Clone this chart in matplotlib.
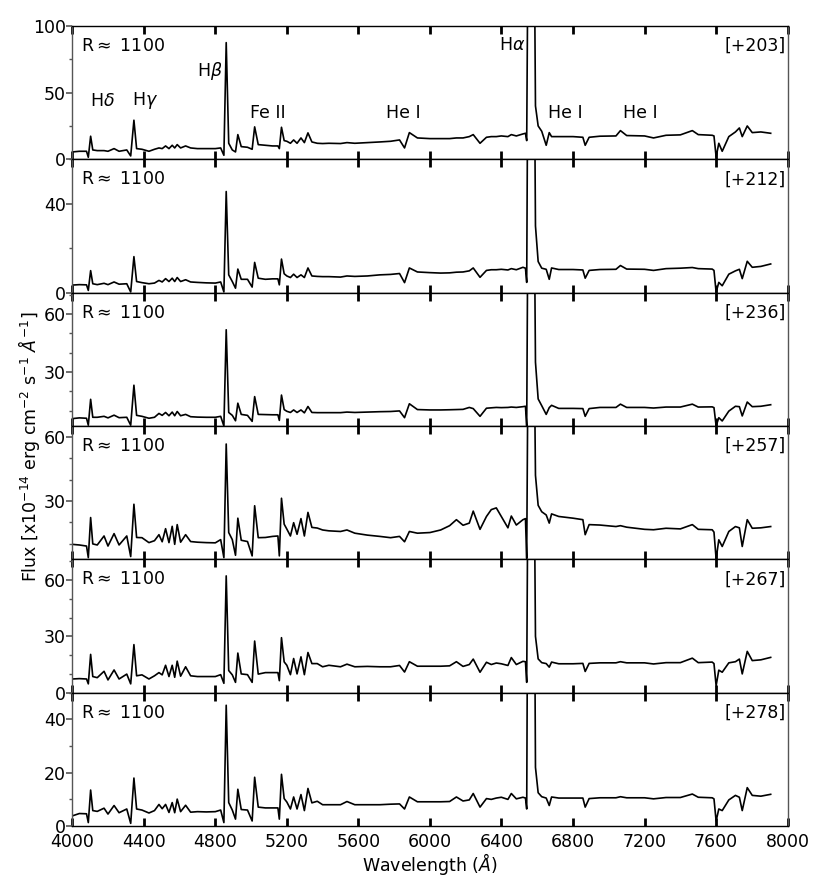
import matplotlib
matplotlib.use("Agg")
import matplotlib.pyplot as plt
from matplotlib.ticker import MultipleLocator

# wavelength grid (Angstrom) shared by all epochs
wave = [
    4000, 4040, 4080, 4090, 4103, 4115, 4140, 4178, 4200, 4234,
    4262, 4305, 4327, 4345, 4360, 4390, 4429, 4460, 4485, 4503,
    4522, 4541, 4559, 4573, 4587, 4606, 4634, 4662, 4700, 4750,
    4800, 4830, 4848, 4861, 4875, 4895, 4913, 4926, 4945, 4980,
    5006, 5020, 5040, 5080, 5120, 5150, 5158, 5170, 5185, 5200,
    5220, 5238, 5257, 5279, 5298, 5318, 5340, 5370, 5400, 5435,
    5500, 5536, 5580, 5650, 5720, 5780, 5830, 5858, 5885, 5930,
    6000, 6060, 6110, 6148, 6185, 6220, 6242, 6280, 6316, 6343,
    6371, 6399, 6436, 6455, 6483, 6520, 6534, 6541, 6550, 6563,
    6576, 6590, 6605, 6625, 6650, 6667, 6680, 6720, 6800, 6855,
    6868, 6890, 6950, 7040, 7065, 7100, 7200, 7250, 7320, 7400,
    7467, 7500, 7578, 7588, 7600, 7615, 7634, 7671, 7708, 7730,
    7746, 7774, 7802, 7850, 7905,
]

flux_203 = [
    5.5, 6.0, 6.0, 1.5, 17.3, 7.0, 6.5, 6.5, 6.0, 8.0,
    6.0, 7.0, 2.5, 29.3, 8.0, 7.5, 6.0, 7.5, 8.5, 8.0,
    10.0, 8.0, 10.5, 8.5, 11.0, 8.5, 10.0, 8.5, 8.0, 8.0,
    8.0, 8.5, 3.0, 87.5, 12.0, 7.0, 5.5, 18.5, 9.5, 9.0,
    7.5, 24.3, 11.0, 10.5, 10.0, 10.0, 8.0, 24.0, 14.0, 13.5,
    12.0, 14.5, 12.0, 16.0, 12.5, 19.8, 13.0, 12.0, 11.8, 12.0,
    11.8, 12.5, 12.0, 12.5, 13.0, 13.5, 14.5, 8.5, 20.0, 16.0,
    15.5, 15.5, 15.5, 16.0, 16.0, 17.0, 18.5, 12.0, 16.5, 17.0,
    17.0, 17.5, 17.0, 18.5, 17.5, 19.0, 19.5, 14.0, 200, 800,
    300, 40, 25, 21.0, 10.5, 20.0, 17.0, 17.0, 17.0, 16.5,
    10.5, 16.5, 17.3, 17.5, 21.5, 17.8, 17.5, 16.0, 18.0, 18.3,
    21.5, 18.5, 18.0, 17.5, 1.8, 12.0, 6.0, 17.0, 20.5, 23.5,
    17.0, 25.0, 20.0, 20.5, 19.5,
]

flux_212 = [
    3.4, 3.6, 3.5, 1.0, 9.9, 4.0, 3.6, 4.2, 3.6, 4.8,
    3.8, 4.0, 0.3, 16.2, 5.0, 4.5, 4.0, 4.3, 5.5, 4.8,
    6.3, 5.0, 6.5, 5.0, 6.8, 5.0, 5.8, 4.8, 4.6, 4.4,
    4.3, 4.8, 0.3, 45.5, 8.0, 5.0, 2.0, 10.6, 6.0, 6.0,
    2.5, 13.6, 6.5, 6.0, 6.2, 6.2, 3.5, 15.1, 8.5, 7.5,
    6.8, 8.3, 6.8, 8.0, 6.8, 11.1, 7.5, 7.3, 7.2, 7.2,
    7.0, 7.5, 7.3, 7.5, 8.0, 8.2, 8.6, 4.5, 11.1, 9.3,
    9.0, 8.8, 8.9, 9.2, 9.3, 9.8, 11.1, 6.9, 10.0, 10.3,
    10.3, 10.5, 10.2, 10.8, 10.3, 11.4, 11.0, 4.6, 150, 600,
    200, 30, 14.0, 11.0, 10.5, 6.0, 11.1, 10.4, 10.4, 10.2,
    6.5, 10.0, 10.4, 10.5, 12.2, 10.6, 10.5, 10.0, 10.8, 11.0,
    11.3, 10.8, 10.6, 10.0, 0.2, 4.6, 3.1, 8.3, 9.8, 10.5,
    6.3, 14.1, 11.4, 11.8, 12.9,
]

flux_236 = [
    5.8, 6.2, 6.0, 2.4, 15.8, 6.5, 6.5, 7.0, 6.2, 7.6,
    6.3, 6.5, 2.4, 23.1, 7.5, 7.0, 6.0, 6.5, 8.5, 7.5,
    9.0, 7.3, 9.2, 7.3, 9.5, 7.3, 8.0, 6.8, 6.6, 6.5,
    6.5, 7.0, 2.0, 51.8, 9.0, 7.5, 4.7, 13.8, 8.0, 7.5,
    4.4, 17.2, 8.0, 7.9, 7.8, 7.8, 4.9, 18.0, 10.5, 9.6,
    9.0, 10.3, 9.0, 10.3, 8.8, 12.1, 9.0, 8.9, 8.9, 8.9,
    8.9, 9.2, 9.0, 9.2, 9.4, 9.5, 9.8, 6.3, 13.5, 10.5,
    10.3, 10.3, 10.4, 10.5, 10.6, 11.6, 11.0, 7.0, 11.2, 11.4,
    11.6, 11.5, 11.6, 11.8, 11.6, 12.0, 12.2, 2.0, 150, 600,
    200, 35, 16.0, 12.5, 8.0, 11.5, 12.7, 11.1, 11.1, 11.0,
    7.0, 11.0, 11.6, 11.6, 13.3, 11.6, 11.6, 11.3, 11.8, 11.8,
    13.3, 11.8, 11.9, 11.5, 2.0, 6.3, 4.6, 9.7, 12.2, 12.0,
    7.2, 14.4, 12.0, 12.2, 13.0,
]

flux_257 = [
    9.8, 9.5, 9.0, 3.6, 22.3, 10.0, 9.5, 13.7, 9.0, 14.8,
    9.5, 13.7, 4.1, 28.5, 13.0, 12.9, 10.6, 11.5, 14.3, 11.0,
    17.1, 10.6, 18.2, 9.8, 19.0, 10.8, 14.3, 11.1, 10.8, 10.6,
    10.5, 12.0, 3.6, 56.6, 15.3, 12.0, 4.7, 22.0, 11.7, 11.1,
    4.4, 27.8, 12.9, 13.0, 13.5, 13.7, 4.4, 31.3, 19.2, 16.9,
    13.7, 19.9, 14.5, 21.8, 13.7, 24.7, 17.7, 17.4, 16.5, 16.1,
    15.8, 16.5, 15.0, 14.1, 13.5, 12.9, 13.5, 11.0, 15.8, 15.0,
    15.3, 16.5, 18.5, 21.3, 18.7, 19.7, 25.3, 16.8, 22.8, 26.0,
    26.8, 22.8, 17.5, 23.0, 18.8, 21.3, 21.8, 3.2, 120, 500,
    160, 42, 28, 25, 23.5, 19.7, 24.0, 22.8, 22.0, 21.3,
    14.3, 19.0, 18.8, 18.1, 18.5, 17.8, 16.8, 16.6, 17.3, 17.0,
    19.0, 16.8, 16.6, 15.5, 3.0, 11.9, 8.8, 15.8, 18.1, 17.5,
    8.8, 21.3, 17.3, 17.5, 18.1,
]

flux_267 = [
    7.3, 7.5, 7.3, 4.7, 20.4, 8.6, 8.0, 11.4, 6.8, 12.1,
    7.3, 9.9, 4.7, 25.6, 9.0, 9.5, 7.3, 9.0, 10.7, 9.5,
    14.6, 8.6, 14.6, 8.2, 16.8, 8.8, 13.8, 9.0, 8.6, 8.6,
    8.6, 9.6, 5.0, 62.2, 11.8, 9.5, 5.5, 21.1, 10.0, 9.6,
    5.5, 27.5, 9.9, 10.7, 10.7, 10.7, 6.4, 29.3, 16.4, 14.6,
    9.6, 18.2, 10.0, 19.1, 9.6, 21.4, 15.5, 15.5, 13.8, 14.6,
    13.8, 15.2, 13.8, 14.0, 13.8, 13.8, 14.5, 11.0, 16.5, 14.1,
    14.1, 14.1, 14.3, 16.5, 14.0, 15.0, 17.9, 10.9, 16.2, 15.0,
    15.8, 15.4, 14.5, 18.7, 15.0, 16.7, 16.5, 5.5, 150, 600,
    200, 30, 18.0, 16.0, 15.5, 13.6, 16.3, 15.4, 15.4, 15.6,
    11.3, 15.6, 15.9, 15.9, 16.5, 15.9, 15.9, 15.3, 16.0, 16.0,
    18.4, 16.0, 16.3, 15.5, 3.7, 12.0, 10.9, 15.9, 16.5, 17.9,
    10.0, 22.0, 17.1, 17.5, 18.8,
]

flux_278 = [
    3.8, 4.7, 4.6, 1.3, 13.5, 5.8, 5.5, 6.7, 4.5, 7.7,
    5.0, 6.4, 1.0, 18.0, 6.4, 6.0, 4.9, 5.8, 8.1, 6.5,
    8.1, 5.1, 8.8, 5.0, 10.1, 5.4, 7.8, 5.2, 5.4, 5.3,
    5.4, 6.0, 1.3, 45.3, 8.8, 6.0, 2.6, 13.8, 6.2, 6.0,
    1.9, 18.3, 7.1, 6.8, 6.8, 6.8, 2.6, 19.4, 10.3, 9.0,
    6.4, 10.9, 6.4, 11.8, 5.8, 14.1, 8.7, 9.3, 8.0, 8.0,
    8.0, 9.2, 8.0, 8.0, 8.0, 8.2, 8.3, 6.4, 10.9, 9.1,
    9.1, 9.1, 9.2, 10.9, 9.4, 9.8, 12.2, 7.1, 10.3, 10.0,
    10.5, 10.8, 10.0, 12.2, 10.2, 10.8, 10.5, 6.4, 150, 600,
    200, 22, 12.5, 11.0, 10.5, 7.7, 10.9, 10.5, 10.5, 10.5,
    7.1, 10.3, 10.6, 10.6, 11.0, 10.6, 10.6, 10.2, 10.7, 10.7,
    12.0, 10.8, 10.6, 10.2, 1.9, 6.4, 5.8, 9.8, 11.5, 10.8,
    5.8, 14.4, 11.5, 11.2, 11.9,
]

epochs = ["[+203]", "[+212]", "[+236]", "[+257]", "[+267]", "[+278]"]
spectra = [flux_203, flux_212, flux_236, flux_257, flux_267, flux_278]
ylims = [(0, 100), (0, 60), (2, 71), (2.8, 65), (0, 71), (0, 50)]
major_step = [50, 40, 30, 30, 30, 20]
minor_step = [25, 20, 10, 10, 10, 10]

# line ids in the top panel: (label, wavelength, flux)
line_ids = [
    (r"H$\delta$", 4170, 44),
    (r"H$\gamma$", 4405, 44),
    (r"H$\beta$", 4770, 66),
    ("Fe II", 5095, 35),
    ("He I", 5850, 35),
    (r"H$\alpha$", 6460, 86),
    ("He I", 6755, 35),
    ("He I", 7175, 35),
]

FS = 12.5
spine_col = "#555555"

fig, axes = plt.subplots(6, 1, figsize=(8.3, 8.94), dpi=100, sharex=True)
fig.subplots_adjust(left=0.087, right=0.949, top=0.971, bottom=0.076, hspace=0)

for i, ax in enumerate(axes):
    ax.plot(wave, spectra[i], color="k", lw=1.2)
    ax.set_xlim(4000, 8000)
    ax.set_ylim(*ylims[i])
    ax.xaxis.set_major_locator(MultipleLocator(400))
    ax.yaxis.set_major_locator(MultipleLocator(major_step[i]))
    ax.yaxis.set_minor_locator(MultipleLocator(minor_step[i]))
    ax.tick_params(axis="x", which="major", direction="in", top=True, bottom=True,
                   length=6, width=2, labelsize=FS, color="k", pad=5)
    ax.tick_params(axis="y", which="major", direction="out", length=4, width=1.2,
                   labelsize=FS, pad=0.5, color=spine_col)
    ax.tick_params(axis="y", which="minor", direction="out", length=2.5, width=1.0,
                   color=spine_col)
    for side in ["left", "right"]:
        ax.spines[side].set_color(spine_col)
    for side in ["top", "bottom"]:
        ax.spines[side].set_color("k")
    for sp in ax.spines.values():
        sp.set_linewidth(1.0)
    ax.text(0.012, 0.85, r"R$\approx$ 1100", transform=ax.transAxes,
            fontsize=FS, va="center", ha="left")
    ax.text(0.998, 0.85, epochs[i], transform=ax.transAxes,
            fontsize=FS, va="center", ha="right")

for label, wl, fl in line_ids:
    axes[0].text(wl, fl, label, fontsize=FS, ha="center", va="center")

axes[-1].set_xlabel(r"Wavelength ($\AA$)", fontsize=FS, labelpad=0)
fig.text(0.035, 0.5, r"Flux [x10$^{-14}$ erg cm$^{-2}$ s$^{-1}$ $\AA^{-1}$]",
         rotation=90, fontsize=FS, ha="center", va="center")

fig.savefig("out.png", dpi=100)
